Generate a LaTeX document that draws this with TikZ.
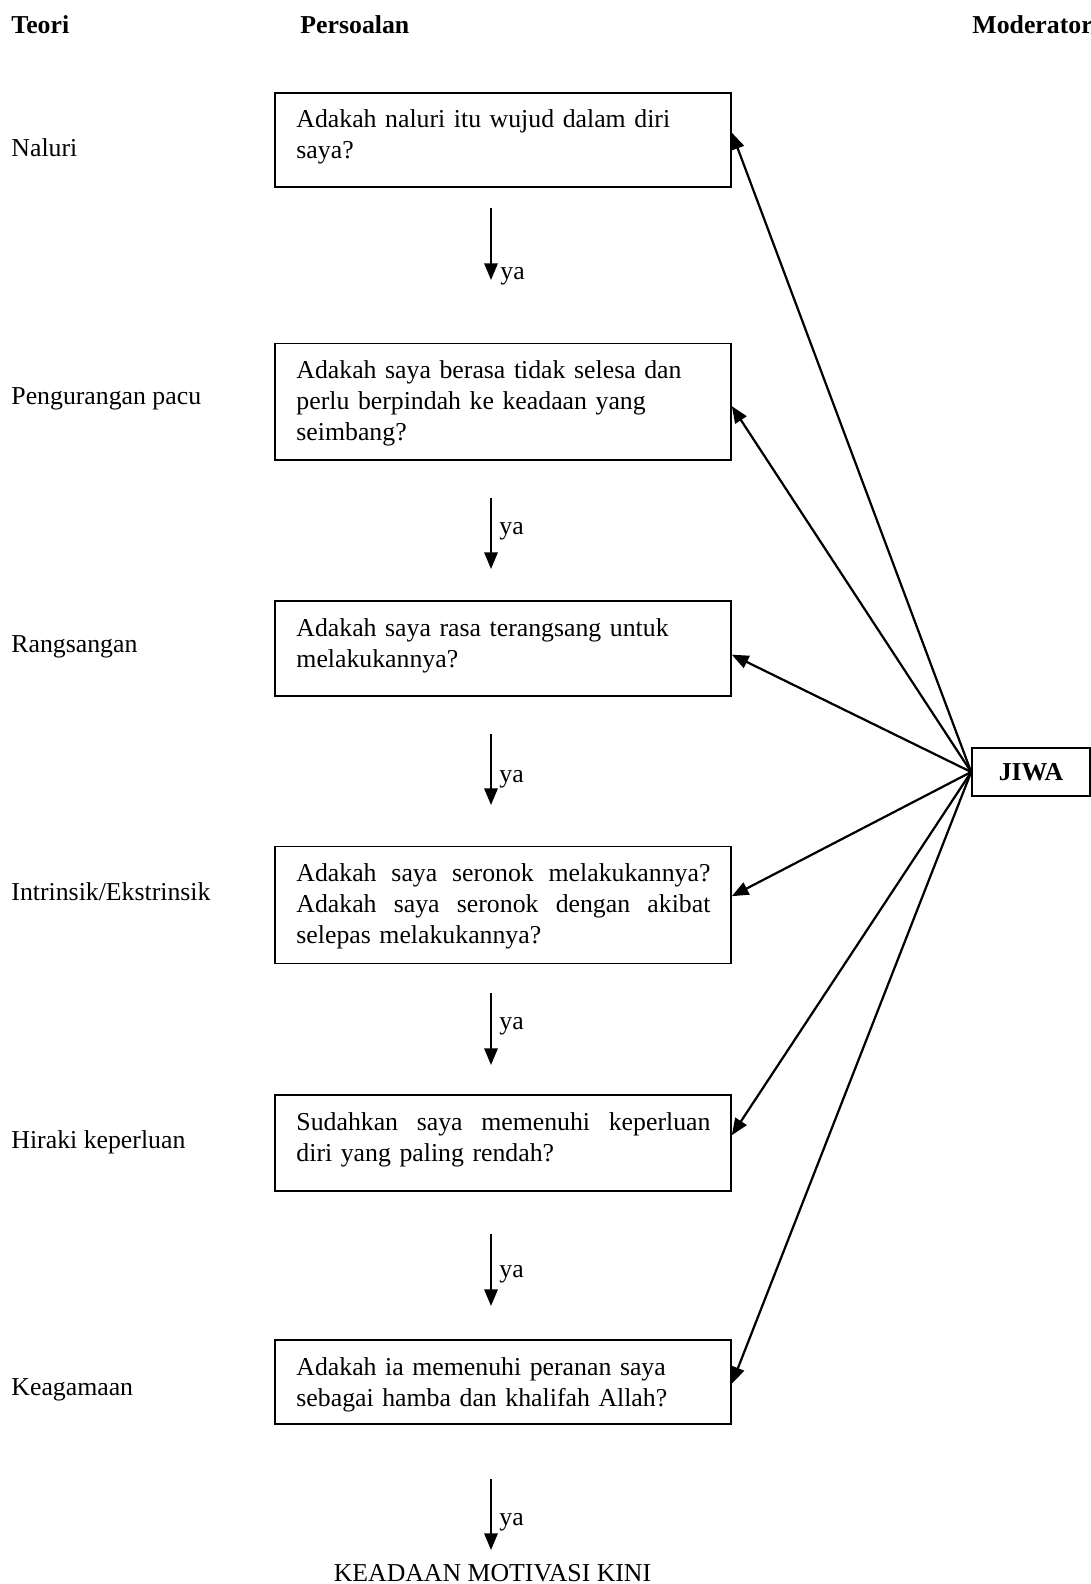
\documentclass[tikz,border=0pt]{standalone}
\usepackage{fontspec}
\setmainfont{Liberation Serif}
\usetikzlibrary{arrows.meta}
\newcommand{\pxu}{0.45pt}
\newlength{\qw}
\setlength{\qw}{186.3pt}
\newcommand{\txt}{\fontsize{11.6}{13.95}\selectfont}
\newcommand{\jline}[1]{\leavevmode\hbox to \qw{#1}}
\tikzset{
  qbox/.style={draw, line width=0.75pt, inner sep=0pt, minimum width=456*\pxu},
  qtext/.style={anchor=base west, inner sep=0pt, text width=\qw, align=left},
  lbl/.style={anchor=base west, inner sep=0pt},
  hdr/.style={lbl, font=\txt\bfseries},
  arr/.style={line width=1pt, -{Triangle[length=7.5pt,width=6pt]}}
}
\begin{document}
\begin{tikzpicture}[x=\pxu, y=-\pxu, font=\txt]
  \useasboundingbox (0,0) rectangle (1091,1584);

  \node[hdr] (teori) at (11,34) {Teori};
  \node[hdr] (persoalan) at (300,34) {Persoalan};
  \node[hdr] (moderator) at (972,34) {Moderator};

  \node[lbl] (t1) at (11,157) {Naluri};
  \node[lbl] (t2) at (11,404.5) {Pengurangan pacu};
  \node[lbl] (t3) at (11,652) {Rangsangan};
  \node[lbl] (t4) at (11,900.5) {Intrinsik/Ekstrinsik};
  \node[lbl] (t5) at (11,1148) {Hiraki keperluan};
  \node[lbl] (t6) at (11,1395.5) {Keagamaan};

  % question boxes
  \node[qbox, minimum height=94*\pxu] (q1) at (503,140) {};
  \node[qbox, minimum height=116.5*\pxu] (q2) at (503,401.75) {};
  \node[qbox, minimum height=95*\pxu] (q3) at (503,648.5) {};
  \node[qbox, minimum height=117*\pxu] (q4) at (503,905) {};
  \node[qbox, minimum height=96*\pxu] (q5) at (503,1143) {};
  \node[qbox, minimum height=84*\pxu] (q6) at (503,1382) {};

  \node[qtext] (p1) at (296,128) {Adakah naluri itu wujud dalam diri\\ saya?};
  \node[qtext] (p2) at (296,378.5) {Adakah saya berasa tidak selesa dan\\ perlu berpindah ke keadaan yang\\ seimbang?};
  \node[qtext] (p3) at (296,636) {Adakah saya rasa terangsang untuk\\ melakukannya?};
  \node[qtext] (p4) at (296,881.5) {\jline{Adakah\hfill saya\hfill seronok\hfill melakukannya?}\\ \jline{Adakah\hfill saya\hfill seronok\hfill dengan\hfill akibat}\\ selepas melakukannya?};
  \node[qtext] (p5) at (296,1130) {\jline{Sudahkan\hfill saya\hfill memenuhi\hfill keperluan}\\ diri yang paling rendah?};
  \node[qtext] (p6) at (296,1375) {Adakah ia memenuhi peranan saya\\ sebagai hamba dan khalifah Allah?};

  \node[draw, line width=0.75pt, inner sep=0pt, minimum width=118*\pxu, minimum height=48*\pxu, font=\txt\bfseries] (jiwa) at (1031,772) {JIWA};

  \node[anchor=base, inner sep=0pt] (kini) at (492.5,1581) {KEADAAN MOTIVASI KINI};

  % ya arrows
  \foreach \i/\t/\b in {1/208/280, 2/498/569, 3/734/805, 4/993/1065, 5/1234/1306, 6/1479/1550}{
    \coordinate (s\i) at (491,\t);
    \coordinate (e\i) at (491,\b);
    \draw[arr] (s\i) -- (e\i);
  }
  \foreach \i/\x/\y in {1/500/280, 2/499/534, 3/499/782, 4/499/1029, 5/499/1277, 6/499/1525}
    \node[lbl] (ya\i) at (\x,\y) {ya};

  \foreach \q/\d in {q1/40.5, q2/63.5, q3/54.5, q4/50.5, q5/41, q6/44.5}
    \draw[arr] (jiwa.west) -- ([shift={(0,\d)}]\q.north east);
\end{tikzpicture}
\end{document}
